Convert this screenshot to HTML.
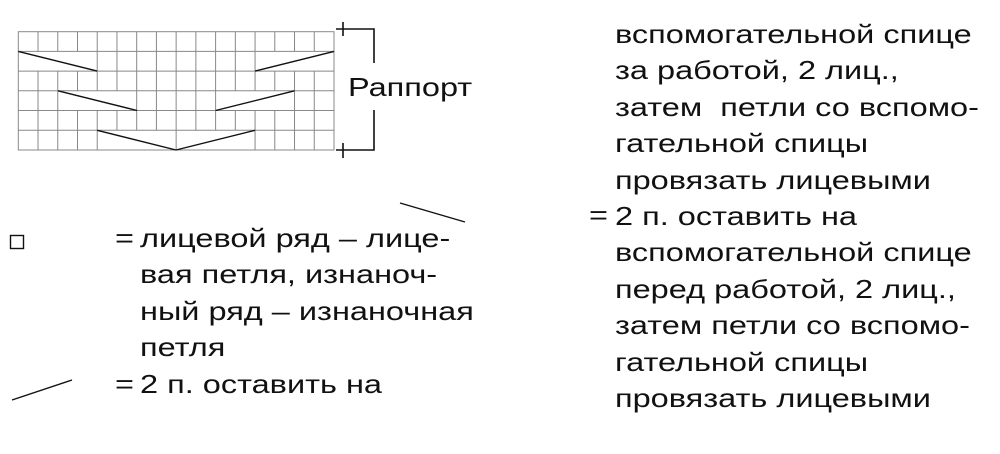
<!DOCTYPE html>
<html><head><meta charset="utf-8"><style>
body{margin:0;width:1000px;height:454px;background:#fff;position:relative;overflow:hidden;font-family:"Liberation Sans",Arial,sans-serif;font-size:26px;color:#111}
.t{position:absolute;white-space:pre;line-height:36.4px;transform:scaleX(1.25);transform-origin:0 0}
</style></head><body>
<svg width="1000" height="454" style="position:absolute;left:0;top:0">
<g stroke="#888" stroke-width="1" fill="none">
<rect x="18.3" y="31.7" width="315.7" height="118.3"/>
<line x1="18.3" y1="51.4" x2="334" y2="51.4"/>
<line x1="18.3" y1="71.1" x2="334" y2="71.1"/>
<line x1="18.3" y1="90.8" x2="334" y2="90.8"/>
<line x1="18.3" y1="110.5" x2="334" y2="110.5"/>
<line x1="18.3" y1="130.3" x2="334" y2="130.3"/>
</g>
<g stroke="#888" stroke-width="1" id="v"></g>
<g stroke="#111" stroke-width="1.4" fill="none">
<line x1="18.3" y1="51.4" x2="97.2" y2="71.1"/>
<line x1="255.1" y1="71.1" x2="334" y2="51.4"/>
<line x1="58" y1="90.8" x2="137" y2="110.5"/>
<line x1="215.6" y1="110.5" x2="294.5" y2="90.8"/>
<line x1="97.2" y1="130.3" x2="176" y2="150"/>
<line x1="176" y1="150" x2="255.1" y2="130.3"/>
<path d="M343 22V36M336 29H374V63M374 110V150H336M343 143V158" stroke-width="1.6"/>
<line x1="400" y1="203" x2="465" y2="222" stroke-width="1.4"/>
<line x1="12" y1="400" x2="72" y2="380" stroke-width="1.4"/>
<rect x="10.5" y="235.5" width="13" height="13" stroke-width="1.4"/>
</g>
<script>
var g=document.getElementById('v'),w=19.73,x0=18.3,y=[31.7,51.4,71.1,90.8,110.5,130.3,150];
var skip={1:[1,2,3,13,14,15],3:[3,4,5,11,12,13],5:[]};
for(var r=0;r<6;r++)for(var c=1;c<16;c++){if(skip[r]&&skip[r].indexOf(c)>=0)continue;
if(r==5&&c>4&&c<12&&c!=8)continue;
var l=document.createElementNS('http://www.w3.org/2000/svg','line');var x=x0+c*w;
l.setAttribute('x1',x);l.setAttribute('x2',x);l.setAttribute('y1',y[r]);l.setAttribute('y2',y[r+1]);g.appendChild(l);}
</script>
</svg>
<div class="t" style="left:348px;top:69px">Раппорт</div>
<div class="t" style="left:115px;top:220px">=</div>
<div class="t" style="left:140px;top:220px">лицевой ряд – лице-
вая петля, изнаноч-
ный ряд – изнаночная
петля</div>
<div class="t" style="left:115px;top:366px">=</div>
<div class="t" style="left:140px;top:366px">2 п. оставить на</div>
<div class="t" style="left:589px;top:197px">=</div>
<div class="t" style="left:615px;top:16px">вспомогательной спице
за работой, 2 лиц.,
затем  петли со вспомо-
гательной спицы
провязать лицевыми
2 п. оставить на
вспомогательной спице
перед работой, 2 лиц.,
затем петли со вспомо-
гательной спицы
провязать лицевыми</div>
</body></html>
